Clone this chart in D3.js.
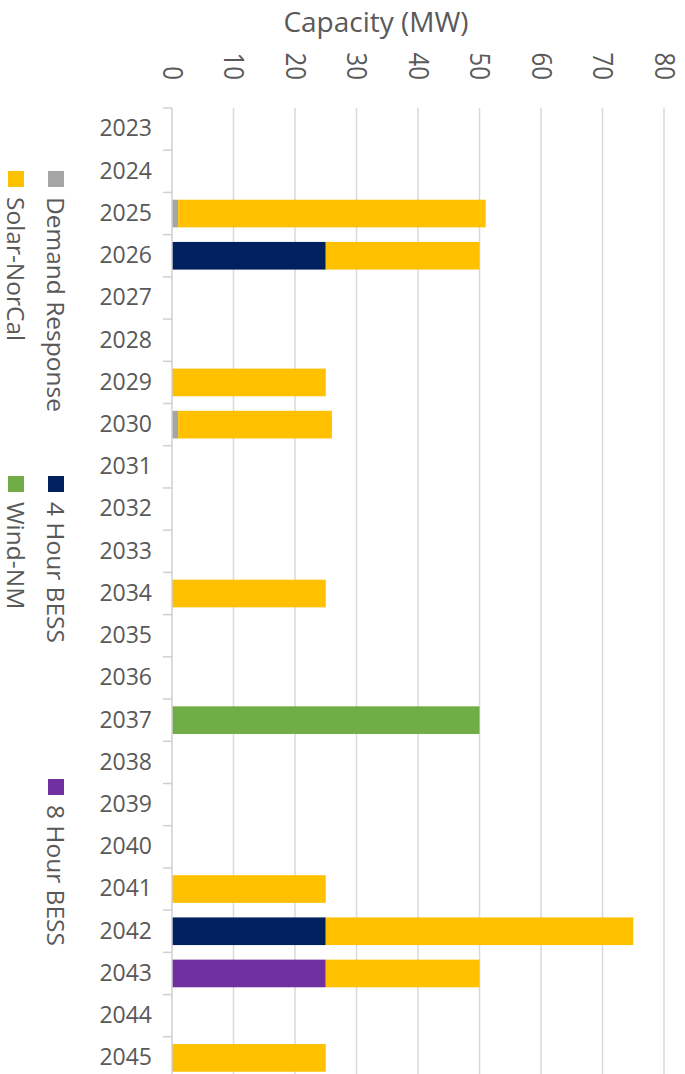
<!DOCTYPE html>
<html>
<head>
<meta charset="utf-8">
<script src="https://cdn.jsdelivr.net/npm/d3@7"></script>
<style>
  html, body { margin: 0; padding: 0; background: #fff; }
  svg { display: block; }
  text { font-family: "Open Sans", "Noto Sans", sans-serif; fill: #595959; }
</style>
</head>
<body>
<svg id="chart" width="685" height="1074"></svg>
<script>
// Planned capacity additions by year (MW)
const years = ["2023","2024","2025","2026","2027","2028","2029","2030","2031","2032","2033","2034",
               "2035","2036","2037","2038","2039","2040","2041","2042","2043","2044","2045"];
const demandResponse = [0,0,1,0,0,0,0,1,0,0,0,0,0,0,0,0,0,0,0,0,0,0,0];
const bess4h         = [0,0,0,25,0,0,0,0,0,0,0,0,0,0,0,0,0,0,0,25,0,0,0];
const bess8h         = [0,0,0,0,0,0,0,0,0,0,0,0,0,0,0,0,0,0,0,0,25,0,0];
const solarNorCal    = [0,0,50,25,0,0,25,25,0,0,0,25,0,0,0,0,0,0,25,50,25,0,25];
const windNM         = [0,0,0,0,0,0,0,0,0,0,0,0,0,0,50,0,0,0,0,0,0,0,0];
const xTicks = [0,10,20,30,40,50,60,70,80];

const seriesNames  = ["Demand Response","4 Hour BESS","8 Hour BESS","Solar-NorCal","Wind-NM"];
const seriesValues = [demandResponse, bess4h, bess8h, solarNorCal, windNM];
const colors = ["#A5A5A5","#002060","#7030A0","#FFC000","#70AD47"];

const rows = years.map((yr, i) => {
  const r = { year: yr };
  seriesNames.forEach((s, k) => r[s] = seriesValues[k][i]);
  return r;
});
const stacked = d3.stack().keys(seriesNames)(rows);

const svg = d3.select("#chart");
const plotLeft = 172, plotRight = 664, plotTop = 108, plotBottom = 1079;

const x = d3.scaleLinear().domain([0, 80]).range([plotLeft, plotRight]);
const y = d3.scaleBand().domain(years).range([plotTop, plotBottom]).paddingInner(0.345).paddingOuter(0.1725);

// vertical gridlines
svg.append("g").selectAll("line").data(xTicks.filter(d => d > 0)).join("line")
  .attr("x1", d => x(d)).attr("x2", d => x(d))
  .attr("y1", plotTop).attr("y2", plotBottom)
  .attr("stroke", "#D9D9D9").attr("stroke-width", 1.5);

// value tick labels, rotated to read downward
svg.append("g").selectAll("text").data(xTicks).join("text")
  .attr("transform", d => `translate(${x(d)},80) scale(1.1,1) rotate(90)`)
  .attr("text-anchor", "end").attr("dy", "0.35em")
  .attr("font-size", 24)
  .text(d => d);

// axis title
svg.append("text").attr("x", 376).attr("y", 32)
  .attr("text-anchor", "middle").attr("font-size", 28)
  .text("Capacity (MW)");

// stacked bars
svg.append("g").selectAll("g").data(stacked).join("g")
  .attr("fill", (d, i) => colors[i])
  .selectAll("rect").data(d => d.filter(p => p[1] - p[0] > 0)).join("rect")
  .attr("x", d => x(d[0])).attr("width", d => x(d[1]) - x(d[0]))
  .attr("y", d => y(d.data.year)).attr("height", y.bandwidth());

// category axis
const yAxis = d3.axisLeft(y).tickSize(0).tickPadding(20);
const gy = svg.append("g").attr("transform", `translate(${plotLeft},0)`).call(yAxis);
gy.select(".domain").remove();
gy.selectAll("text").attr("font-size", 23).attr("fill", "#595959")
  .attr("font-family", "'Open Sans', sans-serif");
svg.append("line").attr("x1", plotLeft).attr("x2", plotLeft).attr("y1", plotTop).attr("y2", plotBottom)
  .attr("stroke", "#D0D0D0").attr("stroke-width", 1.5);
svg.append("g").selectAll("line").data(d3.range(years.length + 1)).join("line")
  .attr("x1", plotLeft - 9).attr("x2", plotLeft)
  .attr("y1", i => plotTop + i * y.step()).attr("y2", i => plotTop + i * y.step())
  .attr("stroke", "#D0D0D0").attr("stroke-width", 1.5);

// legend, laid out along the page height with rotated labels
const legendPos = [
  { cx: 56, cy: 171 }, { cx: 56, cy: 476 }, { cx: 56, cy: 779 },
  { cx: 16, cy: 171 }, { cx: 16, cy: 476 }
];
const lg = svg.append("g").selectAll("g").data(seriesNames).join("g")
  .attr("transform", (d, i) => `translate(${legendPos[i].cx},${legendPos[i].cy})`);
lg.append("rect").attr("x", -8).attr("y", 0).attr("width", 16).attr("height", 16)
  .attr("fill", (d, i) => colors[i]);
lg.append("text").attr("transform", "translate(0,26) rotate(90)")
  .attr("dy", "0.35em").attr("font-size", 24.5)
  .text(d => d);
</script>
</body>
</html>
